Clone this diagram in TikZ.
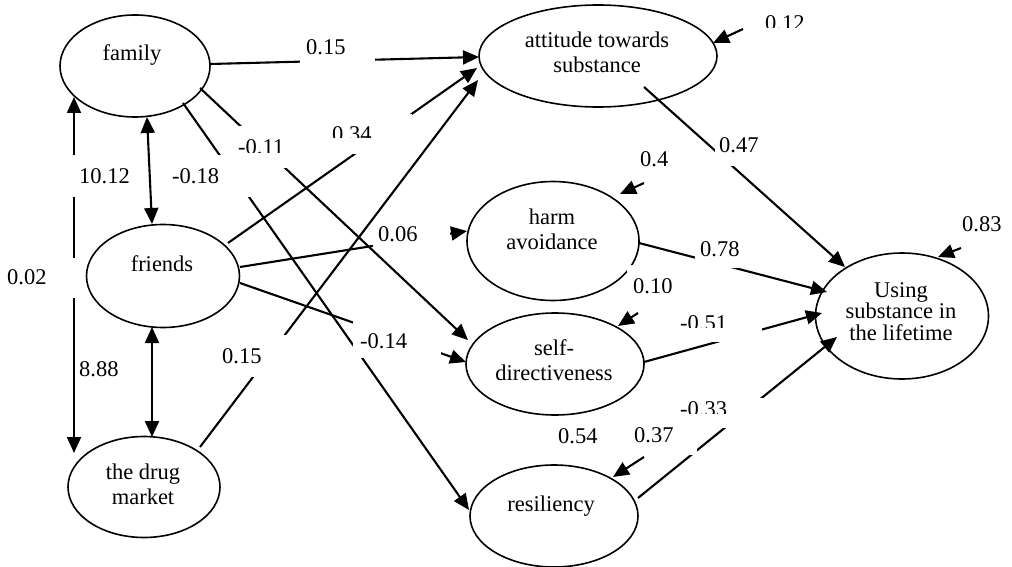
\documentclass[tikz,border=0pt]{standalone}
\usepackage{fontspec}
\setmainfont{Liberation Serif}
\usetikzlibrary{arrows.meta,shapes.geometric,calc}
\begin{document}
\begin{tikzpicture}[x=1pt,y=-1pt,
  ell/.style={draw, ellipse, line width=1.6pt, inner sep=0pt, outer sep=0pt},
  conn/.style={line width=2.1pt, -{Triangle[length=16pt,width=14pt]}},
  dconn/.style={line width=2.1pt, {Triangle[length=16pt,width=14pt]}-{Triangle[length=16pt,width=14pt]}},
  etxt/.style={anchor=base, align=center, inner sep=0pt, font=\fontsize{22.5}{25}\selectfont},
  lab/.style={anchor=base west, inner sep=0pt, font=\fontsize{22.5}{25}\selectfont},
  gap/.style={fill=white}
]
\useasboundingbox (0,0) rectangle (1012,567);

% ellipses
\node[ell, minimum width=150, minimum height=102] (fam)  at (135,66)  {};
\node[ell, minimum width=153, minimum height=103] (fri)  at (163,276) {};
\node[ell, minimum width=152, minimum height=101] (drug) at (144,487) {};
\node[ell, minimum width=238, minimum height=102] (att)  at (598,56)  {};
\node[ell, minimum width=172, minimum height=119] (harm) at (553,241) {};
\node[ell, minimum width=178, minimum height=102] (self) at (555,364) {};
\node[ell, minimum width=168, minimum height=102] (res)  at (554,516) {};
\node[ell, minimum width=173, minimum height=126] (use)  at (902,316) {};

% free ends of the residual arrows
\coordinate (c012) at (743,29);
\coordinate (c04)  at (644,183);
\coordinate (c010) at (638,313);
\coordinate (c037) at (644,457);
\coordinate (c083) at (961,248);

% paths
\draw[conn] ($(fam)+(75,-2)$)  -- ($(att)+(-119,1)$);
\draw[conn] ($(fri)+(65,-33)$) -- ($(att)+(-121,12)$);
\draw[conn] ($(drug)+(56,-40)$) -- ($(att)+(-120,24)$);
\draw[conn] ($(fri)+(77,-9)$)  -- ($(harm)+(-86,-10)$);
\draw[conn] ($(fri)+(77,7)$)   -- ($(self)+(-89,-2)$);
\draw[conn] ($(fam)+(65,22)$)  -- ($(self)+(-87,-24)$);
\draw[conn] ($(fam)+(48,37)$)  -- ($(res)+(-85,-6)$);
\draw[conn] ($(att)+(46,31)$)  -- ($(use)+(-57,-49)$);
\draw[conn] ($(harm)+(86,2)$)  -- ($(use)+(-75,-24)$);
\draw[conn] ($(self)+(89,-2)$) -- ($(use)+(-80,-3)$);
\draw[conn] ($(res)+(84,-18)$) -- ($(use)+(-65,21)$);
% correlations
\draw[dconn] ($(fam)+(12,51)$)  -- ($(fri)+(-11,-52)$);
\draw[dconn] ($(fam)+(-61,31)$) -- ($(drug)+(-70,-34)$);
\draw[dconn] ($(fri)+(-11,51)$) -- ($(drug)+(8,-50)$);
% residuals
\draw[conn] (c012) -- ($(att)+(115,-13)$);
\draw[conn] (c04)  -- ($(harm)+(67,-47)$);
\draw[conn] (c010) -- ($(self)+(63,-38)$);
\draw[conn] (c037) -- ($(res)+(59,-39)$);
\draw[conn] (c083) -- ($(use)+(36,-59)$);

% white label boxes (gaps in the lines)
\fill[gap] (300,36) rectangle (375,70);
\fill[gap] (328,114) rectangle (412,154);
\fill[gap] (234,126) rectangle (300,168);
\fill[gap] (168,155) rectangle (250,197);
\fill[gap] (72,155) rectangle (140,197);
\fill[gap] (4,258) rectangle (76,298);
\fill[gap] (74.5,347) rectangle (135,388);
\fill[gap] (373,226) rectangle (450,249);
\fill[gap] (218,335) rectangle (288,377);
\fill[gap] (353,318) rectangle (441,358);
\fill[gap] (715,130) rectangle (770,166);
\fill[gap] (695,238) rectangle (745,268);
\fill[gap] (676,310) rectangle (762,342);
\fill[gap] (676,398) rectangle (763,428);
\fill[gap] (628,424) rectangle (697,455);
\fill[gap] (627,265) rectangle (690,300);

% ellipse texts (anchor = baseline of the last line)
\node[etxt] (tfam)  at (132,61)  {family};
\node[etxt] (tfri)  at (162,271) {friends};
\node[etxt] (tdrug) at (143,504) {the drug\\market};
\node[etxt] (tatt)  at (597,73)  {attitude towards\\substance};
\node[etxt] (tharm) at (552,249) {harm\\avoidance};
\node[etxt] (tself) at (554,380) {self-\\directiveness};
\node[etxt] (tres)  at (551,511) {resiliency};
\node[etxt, font=\fontsize{22.5}{21.5}\selectfont] (tuse) at (901,340) {Using\\substance in\\the lifetime};

% coefficient labels
\node[lab] (l1)  at (306,55)  {0.15};
\node[lab] (l3)  at (172,183) {-0.18};
\node[lab] (l4)  at (79,183)  {10.12};
\node[lab] (l5)  at (7,284)   {0.02};
\node[lab] (l6)  at (79,376)  {8.88};
\node[lab] (l7)  at (378,241) {0.06};
\node[lab] (l8)  at (360,348) {-0.14};
\node[lab] (l9)  at (222,363) {0.15};
\node[lab] (l10) at (719,153) {0.47};
\node[lab] (l11) at (640,167) {0.4};
\node[lab] (l12) at (700,256) {0.78};
\node[lab] (l13) at (633,293) {0.10};
\node[lab] (l15) at (558,443) {0.54};
\node[lab] (l16) at (634,442) {0.37};
\node[lab] (l18) at (962,231) {0.83};
\begin{scope}
  \clip (230,120) rectangle (300,153);
  \node[lab] (l2) at (238,155) {-0.11};
\end{scope}
\begin{scope}
  \clip (325,110) rectangle (412,138);
  \node[lab] (l0) at (332,142) {0.34};
\end{scope}
\begin{scope}
  \clip (670,300) rectangle (762,327);
  \node[lab] (l14) at (680,330) {-0.51};
\end{scope}
\begin{scope}
  \clip (670,390) rectangle (763,413);
  \node[lab] (l17) at (680,416) {-0.33};
\end{scope}
\begin{scope}
  \clip (755,0) rectangle (830,28);
  \node[lab] (l19) at (765,31) {0.12};
\end{scope}
\end{tikzpicture}
\end{document}
